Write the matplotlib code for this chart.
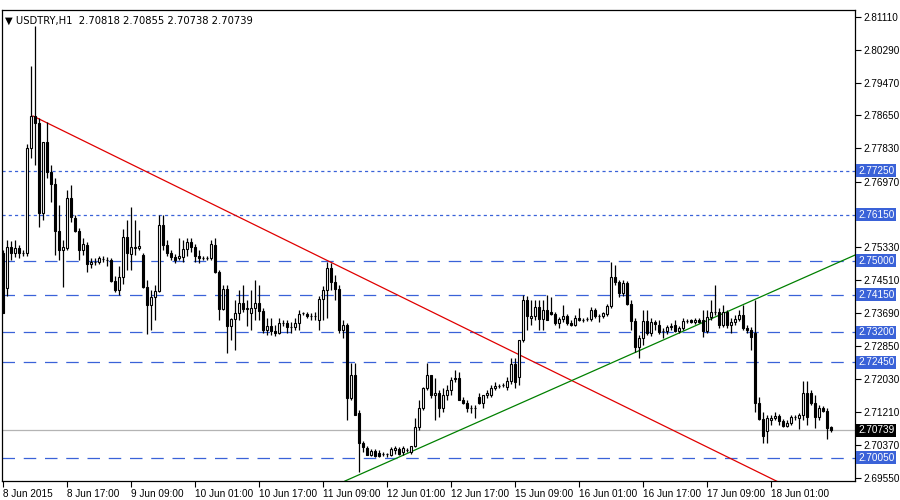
import matplotlib
matplotlib.use("Agg")
import matplotlib.pyplot as plt
import numpy as np
plt.rcParams['font.family'] = ['Liberation Sans', 'DejaVu Sans']

opens = [2.7519,2.7431,2.7534,2.7519,2.7532,2.7519,2.7519,2.7782,2.7863,2.7845,
2.7619,2.7797,2.7722,2.7692,2.7574,2.7527,2.7532,2.7657,2.7606,2.7574,
2.7527,2.7539,2.7492,2.7497,2.7497,2.7504,2.7502,2.7502,2.7449,2.7426,
2.7459,2.7559,2.7517,2.7532,2.7532,2.7514,2.7434,2.7389,2.7409,2.7424,
2.7589,2.7539,2.7519,2.7509,2.7507,2.7509,2.7529,2.7547,2.7534,2.7512,
2.7507,2.7506,2.7507,2.7539,2.7471,2.7379,2.7429,2.7336,2.7354,2.7369,
2.7394,2.7379,2.7369,2.7381,2.7394,2.7374,2.7326,2.7336,2.7324,2.7318,
2.7344,2.7344,2.7334,2.7334,2.7344,2.7369,2.7366,2.7361,2.7361,2.7351,
2.7404,2.7426,2.7482,2.7446,2.7429,2.7326,2.7339,2.7155,2.7213,2.7118,
2.7042,2.7030,2.7013,2.7022,2.7018,2.7015,2.7015,2.7013,2.7025,2.7027,
2.7020,2.7025,2.7020,2.7035,2.7083,2.7130,2.7181,2.7213,2.7163,2.7168,
2.7130,2.7163,2.7176,2.7206,2.7206,2.7150,2.7143,2.7130,2.7130,2.7158,
2.7143,2.7163,2.7163,2.7181,2.7186,2.7188,2.7183,2.7198,2.7241,2.7208,
2.7301,2.7401,2.7356,2.7361,2.7384,2.7354,2.7376,2.7371,2.7366,2.7344,
2.7354,2.7361,2.7344,2.7339,2.7356,2.7351,2.7354,2.7354,2.7376,2.7361,
2.7361,2.7366,2.7386,2.7459,2.7446,2.7419,2.7444,2.7391,2.7349,2.7283,
2.7306,2.7349,2.7318,2.7346,2.7339,2.7324,2.7324,2.7334,2.7339,2.7324,
2.7331,2.7349,2.7351,2.7346,2.7351,2.7351,2.7324,2.7359,2.7371,2.7371,
2.7339,2.7371,2.7339,2.7346,2.7354,2.7364,2.7331,2.7326,2.7318,2.7143,
2.7103,2.7073,2.7100,2.7105,2.7110,2.7098,2.7085,2.7093,2.7108,2.7105,
2.7113,2.7168,2.7168,2.7143,2.7108,2.7130,2.7123,2.7083]
highs = [2.7527,2.7552,2.7549,2.7552,2.7539,2.7527,2.7792,2.7988,2.8088,2.7858,
2.7797,2.7848,2.7740,2.7707,2.7639,2.7552,2.7677,2.7690,2.7614,2.7582,
2.7557,2.7547,2.7507,2.7507,2.7512,2.7512,2.7509,2.7507,2.7461,2.7487,
2.7579,2.7601,2.7634,2.7601,2.7577,2.7519,2.7451,2.7426,2.7439,2.7614,
2.7614,2.7552,2.7527,2.7517,2.7557,2.7552,2.7557,2.7557,2.7542,2.7527,
2.7512,2.7512,2.7552,2.7557,2.7476,2.7439,2.7439,2.7356,2.7401,2.7426,
2.7439,2.7401,2.7426,2.7451,2.7439,2.7381,2.7356,2.7356,2.7339,2.7356,
2.7351,2.7351,2.7346,2.7356,2.7376,2.7371,2.7371,2.7369,2.7371,2.7411,
2.7436,2.7497,2.7494,2.7464,2.7439,2.7351,2.7344,2.7243,2.7243,2.7125,
2.7047,2.7035,2.7027,2.7027,2.7025,2.7020,2.7018,2.7033,2.7035,2.7033,
2.7035,2.7030,2.7035,2.7105,2.7150,2.7183,2.7243,2.7213,2.7206,2.7176,
2.7181,2.7188,2.7208,2.7226,2.7221,2.7158,2.7150,2.7138,2.7138,2.7168,
2.7163,2.7176,2.7188,2.7196,2.7191,2.7193,2.7208,2.7256,2.7256,2.7301,
2.7414,2.7411,2.7401,2.7401,2.7401,2.7401,2.7414,2.7409,2.7371,2.7359,
2.7389,2.7366,2.7351,2.7364,2.7381,2.7356,2.7359,2.7384,2.7381,2.7366,
2.7371,2.7391,2.7497,2.7489,2.7451,2.7451,2.7449,2.7401,2.7356,2.7313,
2.7376,2.7376,2.7356,2.7351,2.7351,2.7331,2.7339,2.7344,2.7351,2.7336,
2.7356,2.7354,2.7354,2.7356,2.7356,2.7376,2.7376,2.7401,2.7439,2.7381,
2.7389,2.7376,2.7356,2.7364,2.7376,2.7389,2.7339,2.7334,2.7401,2.7158,
2.7120,2.7113,2.7113,2.7120,2.7115,2.7103,2.7100,2.7113,2.7113,2.7118,
2.7198,2.7198,2.7176,2.7163,2.7138,2.7135,2.7130,2.7085]
lows = [2.7369,2.7411,2.7502,2.7509,2.7507,2.7512,2.7512,2.7757,2.7740,2.7584,
2.7601,2.7707,2.7647,2.7514,2.7502,2.7434,2.7527,2.7596,2.7572,2.7502,
2.7514,2.7471,2.7482,2.7489,2.7492,2.7497,2.7487,2.7446,2.7421,2.7414,
2.7441,2.7476,2.7476,2.7514,2.7527,2.7431,2.7316,2.7326,2.7351,2.7421,
2.7527,2.7512,2.7502,2.7494,2.7502,2.7497,2.7512,2.7522,2.7497,2.7494,
2.7502,2.7502,2.7502,2.7469,2.7351,2.7376,2.7268,2.7301,2.7276,2.7351,
2.7371,2.7336,2.7326,2.7351,2.7351,2.7318,2.7313,2.7313,2.7311,2.7316,
2.7336,2.7318,2.7318,2.7326,2.7326,2.7364,2.7356,2.7351,2.7351,2.7326,
2.7351,2.7356,2.7426,2.7401,2.7318,2.7306,2.7100,2.7150,2.7113,2.6970,
2.7020,2.7013,2.7010,2.7008,2.7008,2.7010,2.7008,2.7010,2.7015,2.7013,
2.7013,2.7020,2.7015,2.7033,2.7076,2.7125,2.7176,2.7155,2.7100,2.7108,
2.7120,2.7150,2.7163,2.7196,2.7150,2.7140,2.7120,2.7118,2.7105,2.7140,
2.7130,2.7155,2.7158,2.7176,2.7181,2.7183,2.7176,2.7191,2.7181,2.7188,
2.7296,2.7326,2.7339,2.7351,2.7326,2.7326,2.7351,2.7364,2.7339,2.7331,
2.7346,2.7339,2.7336,2.7336,2.7349,2.7346,2.7349,2.7349,2.7356,2.7346,
2.7356,2.7361,2.7381,2.7439,2.7409,2.7411,2.7389,2.7326,2.7271,2.7256,
2.7288,2.7313,2.7311,2.7326,2.7316,2.7306,2.7316,2.7326,2.7321,2.7318,
2.7326,2.7344,2.7344,2.7341,2.7344,2.7308,2.7318,2.7351,2.7364,2.7331,
2.7334,2.7331,2.7318,2.7339,2.7349,2.7326,2.7318,2.7276,2.7120,2.7100,
2.7042,2.7042,2.7088,2.7100,2.7088,2.7083,2.7083,2.7088,2.7100,2.7078,
2.7100,2.7088,2.7138,2.7080,2.7100,2.7120,2.7053,2.7071]
closes = [2.7369,2.7534,2.7519,2.7532,2.7519,2.7518,2.7782,2.7863,2.7845,2.7619,
2.7797,2.7722,2.7692,2.7574,2.7527,2.7534,2.7657,2.7609,2.7574,2.7527,
2.7542,2.7492,2.7497,2.7496,2.7507,2.7503,2.7501,2.7449,2.7426,2.7459,
2.7559,2.7519,2.7534,2.7534,2.7537,2.7434,2.7389,2.7409,2.7424,2.7589,
2.7539,2.7519,2.7509,2.7502,2.7512,2.7529,2.7547,2.7534,2.7512,2.7507,
2.7506,2.7507,2.7542,2.7471,2.7379,2.7429,2.7336,2.7354,2.7369,2.7394,
2.7379,2.7381,2.7381,2.7394,2.7374,2.7326,2.7336,2.7324,2.7318,2.7344,
2.7343,2.7334,2.7333,2.7344,2.7366,2.7368,2.7361,2.7360,2.7361,2.7404,
2.7426,2.7482,2.7446,2.7429,2.7326,2.7339,2.7155,2.7213,2.7113,2.7042,
2.7033,2.7013,2.7022,2.7010,2.7010,2.7014,2.7014,2.7027,2.7030,2.7015,
2.7030,2.7024,2.7035,2.7083,2.7130,2.7181,2.7213,2.7163,2.7168,2.7130,
2.7163,2.7176,2.7201,2.7203,2.7150,2.7143,2.7130,2.7129,2.7131,2.7143,
2.7163,2.7168,2.7181,2.7186,2.7185,2.7187,2.7198,2.7241,2.7196,2.7301,
2.7401,2.7361,2.7361,2.7384,2.7354,2.7376,2.7351,2.7366,2.7344,2.7354,
2.7361,2.7344,2.7339,2.7356,2.7351,2.7350,2.7353,2.7376,2.7361,2.7360,
2.7369,2.7386,2.7459,2.7446,2.7419,2.7444,2.7391,2.7349,2.7283,2.7306,
2.7349,2.7318,2.7346,2.7341,2.7321,2.7323,2.7334,2.7335,2.7324,2.7331,
2.7349,2.7348,2.7346,2.7351,2.7346,2.7324,2.7359,2.7371,2.7370,2.7339,
2.7371,2.7339,2.7346,2.7354,2.7364,2.7331,2.7326,2.7308,2.7143,2.7103,
2.7060,2.7105,2.7105,2.7110,2.7098,2.7085,2.7093,2.7108,2.7107,2.7113,
2.7168,2.7108,2.7143,2.7108,2.7130,2.7123,2.7080,2.7074]

xtick_bars = [0,16,32,48,64,80,96,112,128,144,160,176,192]
xtick_labels = ["8 Jun 2015","8 Jun 17:00","9 Jun 09:00","10 Jun 01:00","10 Jun 17:00",
                "11 Jun 09:00","12 Jun 01:00","12 Jun 17:00","15 Jun 09:00","16 Jun 01:00",
                "16 Jun 17:00","17 Jun 09:00","18 Jun 01:00"]
ytick_vals = [2.81110,2.80290,2.79470,2.78650,2.77830,2.76970,2.75330,2.74510,
              2.73690,2.72850,2.72030,2.71210,2.70370,2.69550]
dotted_levels = [2.77250,2.76150]
dashed_levels = [2.75000,2.74150,2.73200,2.72450,2.70050]
last_price = 2.70739
red_line = ([7.5, 81.75], [2.7863, 2.7497])
green_line = ([85.5, 213.0], [2.6947, 2.7514])

n = len(closes)
fig = plt.figure(figsize=(9,5), dpi=100)
ax = fig.add_axes([2/900, 19/500, 853/900, 471/500])
ax.set_xlim(-0.25, 213)
ax.set_ylim(2.6947, 2.8129)

blue = '#3a62d8'
for lv in dotted_levels:
    ax.axhline(lv, color=blue, lw=0.9, ls=(0,(2.5,2.5)), zorder=1)
for lv in dashed_levels:
    ax.axhline(lv, color=blue, lw=0.9, ls=(0,(10,7)), zorder=1)
ax.axhline(last_price, color='#b4b4b4', lw=0.9, zorder=1)

rx = np.array(red_line[0]); ry = np.array(red_line[1])
s = (ry[1]-ry[0])/(rx[1]-rx[0])
ax.plot([rx[0], 213], [ry[0], ry[0]+s*(213-rx[0])], color='#e00000', lw=0.9, zorder=2)
ax.plot(green_line[0], green_line[1], color='#008000', lw=0.9, zorder=2)

for i in range(n):
    o, h, l, c = opens[i], highs[i], lows[i], closes[i]
    ax.vlines(i, l, h, color='black', lw=0.9, zorder=3)
    bot = min(o, c); ht = max(abs(c-o), 0.00008)
    fc = 'white' if c >= o else 'black'
    ax.bar(i, ht, bottom=bot, width=0.62, facecolor=fc, edgecolor='black', lw=0.8, zorder=4)

for sp in ax.spines.values():
    sp.set_linewidth(0.9)

fs = 7.2
ax.yaxis.tick_right()
ax.set_yticks(ytick_vals)
ax.set_yticklabels([f"{v:.5f}" for v in ytick_vals], fontsize=fs)
ax.tick_params(axis='y', length=4, width=0.8, pad=2)
ax.set_xticks(xtick_bars)
ax.set_xticklabels(xtick_labels, fontsize=fs, ha='left')
ax.tick_params(axis='x', length=4, width=0.8, pad=2)

tr = ax.get_yaxis_transform()
for lv in dotted_levels + dashed_levels:
    ax.text(1.0035, lv, f"{lv:.5f}", transform=tr, fontsize=fs, color='white', va='center',
            ha='left', bbox=dict(boxstyle='square,pad=0.15', fc=blue, ec='none'), clip_on=False, zorder=10)
ax.text(1.0035, last_price, f"{last_price:.5f}", transform=tr, fontsize=fs, color='white', va='center',
        ha='left', bbox=dict(boxstyle='square,pad=0.15', fc='black', ec='none'), clip_on=False, zorder=10)

ax.text(0.004, 0.988, "\u25BC USDTRY,H1  2.70818 2.70855 2.70738 2.70739", transform=ax.transAxes,
        fontsize=fs, va='top', ha='left', color='black', family=['DejaVu Sans'])

fig.savefig("out.png", dpi=100)
